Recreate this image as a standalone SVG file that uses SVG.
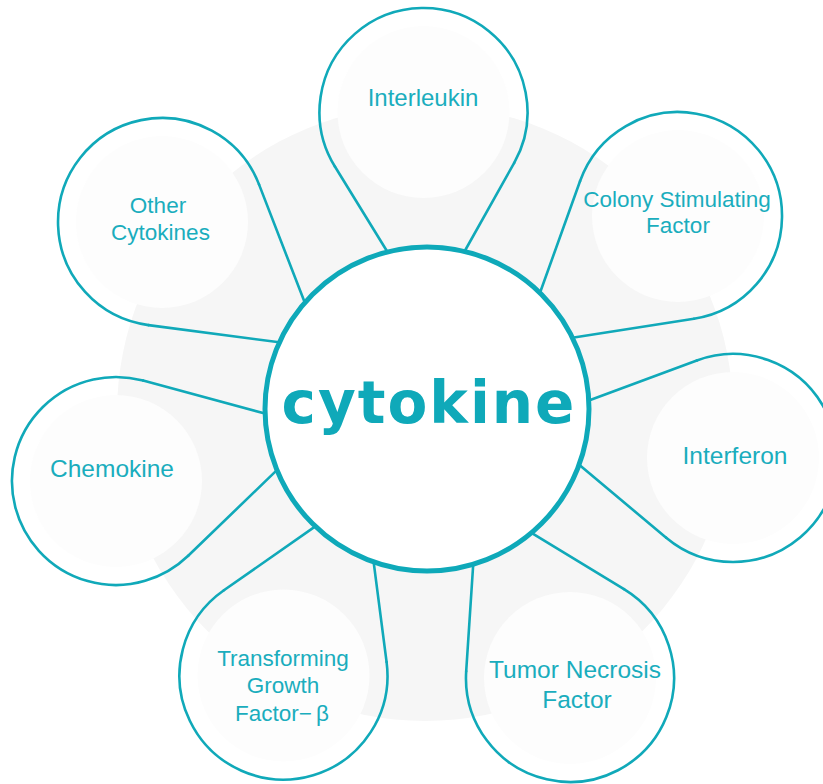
<svg xmlns="http://www.w3.org/2000/svg" width="823" height="784" viewBox="0 0 823 784">
<style>
.bg{fill:#f6f6f6}
.inner{fill:#fdfdfd}
.ring{fill:none;stroke:#10a9b9;stroke-width:2.6;stroke-linecap:round;stroke-linejoin:round}
.lbl{font-family:"Liberation Sans",Arial,sans-serif;fill:#1aadbd;text-anchor:middle}
.hub{fill:#ffffff;stroke:#0ea9b9;stroke-width:5}
.hubt{font-family:"DejaVu Sans",sans-serif;font-weight:bold;font-size:58px;letter-spacing:2px;fill:#0fa9b9;text-anchor:middle}
</style>
<rect width="823" height="784" fill="#ffffff"/>
<circle class="bg" cx="425" cy="413" r="308"/>

<g id="connectors" class="ring">
<path d="M334.9 166.5 L389.2 254.8 M514.2 162.9 L463.1 254"/>
<path d="M580.1 181 L538.3 297.5 M693.9 318.8 L569.1 338.2"/>
<path d="M696.8 360.5 L585.5 401.8 M666.2 537.7 L575.3 461.6"/>
<path d="M143.1 380.6 L270.7 415.1 M188.2 555.8 L282.8 464.4"/>
<path d="M223.9 590.3 L319.6 523.4 M386.6 662.1 L373 557.1"/>
<path d="M466.2 671.2 L473.5 560 M624 589.1 L528.2 530.8"/>
<path d="M259 184.4 L306.6 307.3 M148.5 325.1 L286.9 343.3"/>
</g>

<g id="node-interleukin">
<circle class="inner" cx="423.5" cy="112" r="86"/>
<path class="ring" d="M334.9 166.5 A104 104 0 1 1 514.2 162.9"/>
<text class="lbl" x="423" y="106" font-size="24">Interleukin</text>
</g>

<g id="node-csf">
<circle class="inner" cx="678" cy="216" r="86"/>
<path class="ring" d="M580.1 181 A104 104 0 1 1 693.9 318.8"/>
<text class="lbl" x="677" y="207" font-size="22.5">Colony Stimulating</text>
<text class="lbl" x="678" y="233" font-size="22.5">Factor</text>
</g>

<g id="node-interferon">
<circle class="inner" cx="733" cy="458" r="86"/>
<path class="ring" d="M696.8 360.5 A104 104 0 1 1 666.2 537.7"/>
<text class="lbl" x="735" y="464" font-size="24.5">Interferon</text>
</g>

<g id="node-chemokine">
<circle class="inner" cx="116" cy="481" r="86"/>
<path class="ring" d="M143.1 380.6 A104 104 0 1 0 188.2 555.8"/>
<text class="lbl" x="112" y="477" font-size="24.5">Chemokine</text>
</g>

<g id="node-tgf">
<circle class="inner" cx="283.5" cy="675.5" r="86"/>
<path class="ring" d="M223.9 590.3 A104 104 0 1 0 386.6 662.1"/>
<text class="lbl" x="283" y="665.5" font-size="22.5">Transforming</text>
<text class="lbl" x="283" y="692.5" font-size="22.5">Growth</text>
<text class="lbl" x="282" y="720.5" font-size="22.5">Factor−<tspan dx="4">β</tspan></text>
</g>

<g id="node-tnf">
<circle class="inner" cx="570" cy="678" r="86"/>
<path class="ring" d="M466.2 671.2 A104 104 0 1 0 624 589.1"/>
<text class="lbl" x="575" y="678" font-size="24.5">Tumor Necrosis</text>
<text class="lbl" x="577" y="708" font-size="24.5">Factor</text>
</g>

<g id="node-other">
<circle class="inner" cx="162" cy="222" r="86"/>
<path class="ring" d="M259 184.4 A104 104 0 1 0 148.5 325.1"/>
<text class="lbl" x="158" y="213" font-size="22.5">Other</text>
<text class="lbl" x="160.5" y="240" font-size="22.5">Cytokines</text>
</g>

<g id="node-cytokine">
<circle class="hub" cx="427" cy="409" r="162"/>
<text class="hubt" x="429" y="423">cytokine</text>
</g>
</svg>
